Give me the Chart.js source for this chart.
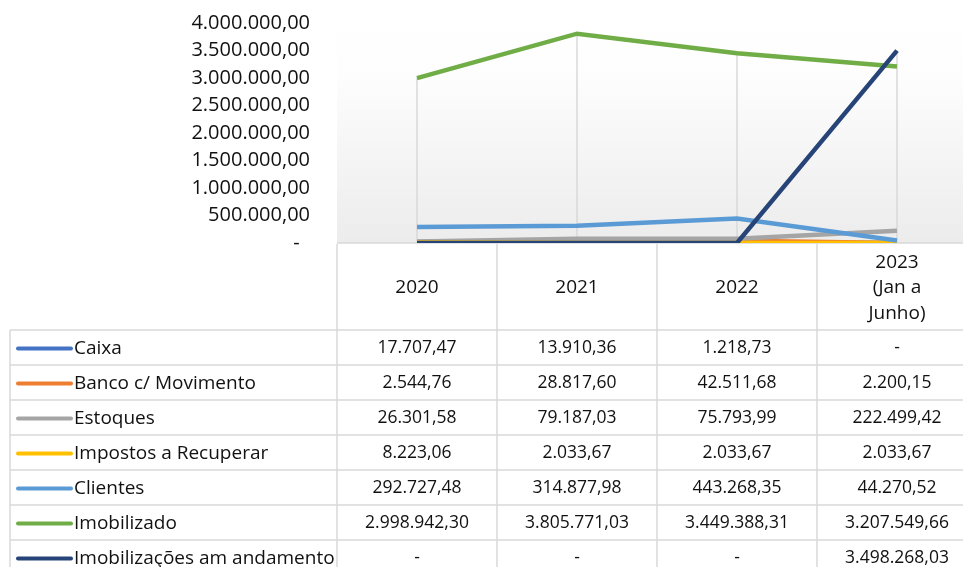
<!DOCTYPE html>
<html lang="pt-BR">
<head>
  <meta charset="UTF-8" />
  <title>Ativo - evolução</title>
  <script src="https://cdn.jsdelivr.net/npm/chart.js"></script>
  <style>
    html, body { margin: 0; padding: 0; background: #fff; overflow: hidden; }
    #chart { position: absolute; left: 0; top: 0; }
  </style>
</head>
<body>
  <canvas id="chart" width="980" height="567"></canvas>

  <script>
    // categories and series
    const anos = ['2020', '2021', '2022', ['2023', '(Jan a', 'Junho)']];
    const caixa = [17707.47, 13910.36, 1218.73, 0];
    const banco = [2544.76, 28817.60, 42511.68, 2200.15];
    const estoques = [26301.58, 79187.03, 75793.99, 222499.42];
    const impostos = [8223.06, 2033.67, 2033.67, 2033.67];
    const clientes = [292727.48, 314877.98, 443268.35, 44270.52];
    const imobilizado = [2998942.30, 3805771.03, 3449388.31, 3207549.66];
    const imobAndamento = [0, 0, 0, 3498268.03];

    const seriesNames = ['Caixa', 'Banco c/ Movimento', 'Estoques', 'Impostos a Recuperar',
      'Clientes', 'Imobilizado', 'Imobilizações am andamento'];
    const seriesData = [caixa, banco, estoques, impostos, clientes, imobilizado, imobAndamento];
    const seriesColors = ['#4472C4', '#ED7D31', '#A5A5A5', '#FFC000', '#5B9BD5', '#70AD47', '#264478'];

    const FONT = '"Open Sans", "Noto Sans", sans-serif';
    const fmt = v => v === 0 ? '-' :
      v.toLocaleString('pt-BR', { minimumFractionDigits: 2, maximumFractionDigits: 2 });

    // gradient plot background + drop lines (behind the series)
    const plotBack = {
      id: 'plotBack',
      beforeDatasetsDraw(chart) {
        const { ctx, chartArea: a, scales } = chart;
        ctx.save();
        const g = ctx.createLinearGradient(0, a.top, 0, a.bottom);
        g.addColorStop(0, '#ffffff');
        g.addColorStop(0.25, '#fdfdfd');
        g.addColorStop(1, '#ececec');
        ctx.fillStyle = g;
        ctx.fillRect(a.left, a.top, a.right - a.left, a.bottom - a.top);

        // drop lines from the highest point of each category
        ctx.strokeStyle = '#d9d9d9';
        ctx.lineWidth = 1.5;
        anos.forEach((_, i) => {
          const top = Math.max(...seriesData.map(s => s[i]));
          const x = scales.x.getPixelForValue(i);
          ctx.beginPath();
          ctx.moveTo(x, scales.y.getPixelForValue(top));
          ctx.lineTo(x, a.bottom);
          ctx.stroke();
        });

        // category axis line
        ctx.beginPath();
        ctx.moveTo(a.left, a.bottom);
        ctx.lineTo(a.right, a.bottom);
        ctx.stroke();
        ctx.restore();
      }
    };

    // data table under the plot
    const dataTable = {
      id: 'dataTable',
      afterDraw(chart) {
        const { ctx, chartArea: a, scales } = chart;
        const colW = (a.right - a.left) / anos.length;
        const headTop = a.bottom + 1;
        const headBottom = 330;
        const rowH = 35;
        const tableLeft = 10;
        ctx.save();
        ctx.strokeStyle = '#d9d9d9';
        ctx.lineWidth = 1.5;

        // column separators
        for (let i = 0; i <= anos.length; i++) {
          const x = a.left + i * colW;
          ctx.beginPath();
          ctx.moveTo(x, headTop);
          ctx.lineTo(x, headBottom + rowH * seriesNames.length);
          ctx.stroke();
        }
        ctx.beginPath();
        ctx.moveTo(tableLeft, headBottom);
        ctx.lineTo(tableLeft, headBottom + rowH * seriesNames.length);
        ctx.stroke();
        // row separators
        for (let r = 0; r <= seriesNames.length; r++) {
          const y = headBottom + r * rowH;
          ctx.beginPath();
          ctx.moveTo(tableLeft, y);
          ctx.lineTo(a.right, y);
          ctx.stroke();
        }

        ctx.fillStyle = '#111';
        ctx.textAlign = 'center';
        ctx.textBaseline = 'middle';
        // header
        ctx.font = '19px ' + FONT;
        anos.forEach((lab, i) => {
          const x = scales.x.getPixelForValue(i);
          const lines = Array.isArray(lab) ? lab : [lab];
          const lh = 25.5;
          const mid = (headTop + headBottom) / 2 + 1;
          lines.forEach((t, k) => {
            ctx.fillText(t, x, mid + (k - (lines.length - 1) / 2) * lh);
          });
        });
        // rows
        seriesNames.forEach((name, r) => {
          const yc = headBottom + r * rowH + rowH / 2 + 1;
          ctx.strokeStyle = seriesColors[r];
          ctx.lineWidth = 4;
          ctx.lineCap = 'round';
          ctx.beginPath();
          ctx.moveTo(18, yc);
          ctx.lineTo(71, yc);
          ctx.stroke();
          ctx.textAlign = 'left';
          ctx.font = '19px ' + FONT;
          ctx.fillText(name, 74, yc);
          ctx.textAlign = 'center';
          ctx.font = '17.5px ' + FONT;
          seriesData[r].forEach((v, i) => {
            ctx.fillText(fmt(v), scales.x.getPixelForValue(i), yc);
          });
        });
        ctx.restore();
      }
    };

    new Chart(document.getElementById('chart'), {
      type: 'line',
      data: {
        labels: anos,
        datasets: seriesNames.map((name, i) => ({
          label: name,
          data: seriesData[i],
          borderColor: seriesColors[i],
          backgroundColor: seriesColors[i],
          borderWidth: 4.5,
          pointRadius: 0,
          tension: 0,
          fill: false,
          order: seriesNames.length - i
        }))
      },
      options: {
        responsive: false,
        animation: false,
        devicePixelRatio: 1,
        layout: { padding: { top: 23, right: 3, bottom: 324, left: 0 } },
        plugins: { legend: { display: false }, tooltip: { enabled: false } },
        scales: {
          x: {
            type: 'category',
            offset: true,
            ticks: { display: false },
            grid: { display: false },
            border: { display: false },
            afterFit(scale) { scale.height = 0; }
          },
          y: {
            min: 0,
            max: 4000000,
            ticks: {
              stepSize: 500000,
              padding: 27,
              color: '#111',
              font: { family: FONT, size: 20 },
              callback: v => v === 0 ? '-  ' : fmt(v)
            },
            grid: { display: false, drawTicks: false },
            border: { display: false },
            afterFit(scale) {
              scale.width = 337;
              // tick padding should only push labels sideways, not down
              scale.paddingTop = 0;
              scale.paddingBottom = 0;
            }
          }
        }
      },
      plugins: [plotBack, dataTable]
    });
  </script>
</body>
</html>
